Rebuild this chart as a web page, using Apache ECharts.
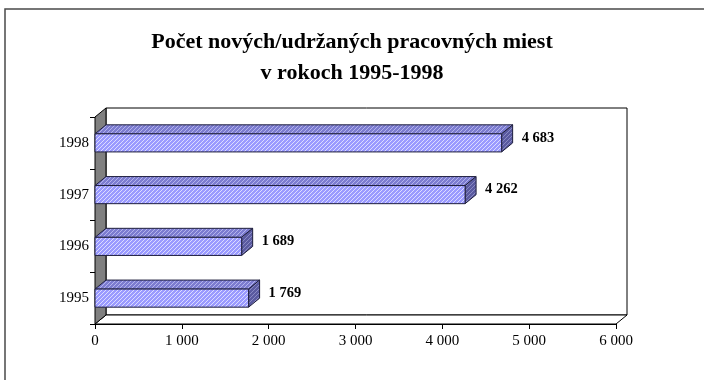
<!DOCTYPE html>
<html>
<head>
<meta charset="utf-8">
<script src="https://cdn.jsdelivr.net/npm/echarts@6/dist/echarts.min.js"></script>
<style>
  html, body { margin: 0; padding: 0; background: #fff; }
  #chart { width: 704px; height: 380px; }
</style>
</head>
<body>
<div id="chart"></div>
<script>
// Years (bottom to top) and number of new/retained jobs
const years = ['1995', '1996', '1997', '1998'];
const jobs = [1769, 1689, 4262, 4683];
const xTicks = { min: 0, max: 6000, interval: 1000 };

const SERIF = '"Liberation Serif", "Times New Roman", serif';
const DEPTH_X = 11, DEPTH_Y = 9;

// Thousands separated by a space, e.g. 4 683
function fmt(v) {
  return String(v).replace(/\B(?=(\d{3})+(?!\d))/g, ' ');
}

// Hatched fill: base colour with thin light diagonal stripes
function hatch(base, line) {
  const c = document.createElement('canvas');
  c.width = 4; c.height = 4;
  const g = c.getContext('2d');
  g.fillStyle = base;
  g.fillRect(0, 0, 4, 4);
  g.strokeStyle = line;
  g.lineWidth = 1;
  g.beginPath();
  g.moveTo(-1, 5); g.lineTo(5, -1);
  g.moveTo(-1, 1); g.lineTo(1, -1);
  g.moveTo(3, 5); g.lineTo(5, 3);
  g.stroke();
  return { image: c, repeat: 'repeat' };
}
const frontFill = hatch('#9a9aff', '#dcdcff');
const topFill = hatch('#7c7cd0', '#b4b4ec');
const sideFill = hatch('#5a5aa0', '#8a8ac4');
const EDGE = '#1e1e3c';

const chart = echarts.init(document.getElementById('chart'));

chart.setOption({
  animation: false,
  title: {
    text: 'Počet nových/udržaných pracovných miest\nv rokoch 1995-1998',
    left: 'center',
    top: 22,
    textStyle: {
      fontFamily: SERIF, fontWeight: 'bold', fontSize: 22,
      lineHeight: 31, color: '#000'
    }
  },
  graphic: [{
    type: 'rect',
    shape: { x: 5, y: 9, width: 720, height: 400 },
    style: { fill: null, stroke: '#4a4a4a', lineWidth: 1.5 },
    silent: true,
    z: -10
  }],
  grid: { left: 95, right: 88, top: 117, bottom: 56 },
  xAxis: {
    type: 'value',
    min: xTicks.min, max: xTicks.max, interval: xTicks.interval,
    axisLine: { show: true, lineStyle: { color: '#000', width: 1 } },
    axisTick: { show: true, length: 5, lineStyle: { color: '#000' } },
    splitLine: { show: false },
    axisLabel: {
      fontFamily: SERIF, fontSize: 15, color: '#000', margin: 10,
      formatter: v => fmt(v)
    }
  },
  yAxis: {
    type: 'category',
    data: years,
    axisLine: { show: true, lineStyle: { color: '#000', width: 1 } },
    axisTick: { show: true, length: 5, lineStyle: { color: '#000' } },
    axisLabel: { fontFamily: SERIF, fontSize: 15, color: '#000', margin: 6 }
  },
  series: [
    {
      // Walls and floor of the 3-D plot area
      type: 'custom',
      data: [0],
      z: 1,
      silent: true,
      renderItem: function (params, api) {
        const cs = params.coordSys;
        const x0 = cs.x, y0 = cs.y, x1 = cs.x + cs.width, y1 = cs.y + cs.height;
        const dx = DEPTH_X, dy = DEPTH_Y;
        return {
          type: 'group',
          children: [
            {
              type: 'polygon',
              shape: { points: [[x0 + dx, y0 - dy], [x1 + dx, y0 - dy], [x1 + dx, y1 - dy], [x0 + dx, y1 - dy]] },
              style: { fill: '#fff', stroke: '#000', lineWidth: 1 }
            },
            {
              type: 'polygon',
              shape: { points: [[x0, y1], [x1, y1], [x1 + dx, y1 - dy], [x0 + dx, y1 - dy]] },
              style: { fill: '#fff', stroke: '#000', lineWidth: 1 }
            },
            {
              type: 'polygon',
              shape: { points: [[x0, y0], [x0 + dx, y0 - dy], [x0 + dx, y1 - dy], [x0, y1]] },
              style: { fill: '#808080', stroke: '#000', lineWidth: 1 }
            }
          ]
        };
      }
    },
    {
      // 3-D bars with value labels
      type: 'custom',
      data: jobs.map((v, i) => [v, i]),
      encode: { x: 0, y: 1 },
      z: 5,
      renderItem: function (params, api) {
        const val = api.value(0), cat = api.value(1);
        const end = api.coord([val, cat]);
        const start = api.coord([0, cat]);
        const band = api.size([0, 1])[1];
        const h = band * 0.35;
        const xa = start[0], xb = end[0];
        const yt = end[1] - h / 2, yb = end[1] + h / 2;
        const dx = DEPTH_X, dy = DEPTH_Y;
        return {
          type: 'group',
          children: [
            {
              type: 'polygon',
              shape: { points: [[xa, yt], [xb, yt], [xb + dx, yt - dy], [xa + dx, yt - dy]] },
              style: { fill: topFill, stroke: EDGE, lineWidth: 1 }
            },
            {
              type: 'polygon',
              shape: { points: [[xb, yt], [xb + dx, yt - dy], [xb + dx, yb - dy], [xb, yb]] },
              style: { fill: sideFill, stroke: EDGE, lineWidth: 1 }
            },
            {
              type: 'rect',
              shape: { x: xa, y: yt, width: xb - xa, height: h },
              style: { fill: frontFill, stroke: EDGE, lineWidth: 1 }
            },
            {
              type: 'text',
              style: {
                x: xb + dx + 9,
                y: end[1] - 5,
                text: fmt(val),
                fontFamily: SERIF, fontWeight: 'bold', fontSize: 14.5,
                fill: '#000',
                align: 'left', verticalAlign: 'middle'
              }
            }
          ]
        };
      }
    }
  ]
});
</script>
</body>
</html>
